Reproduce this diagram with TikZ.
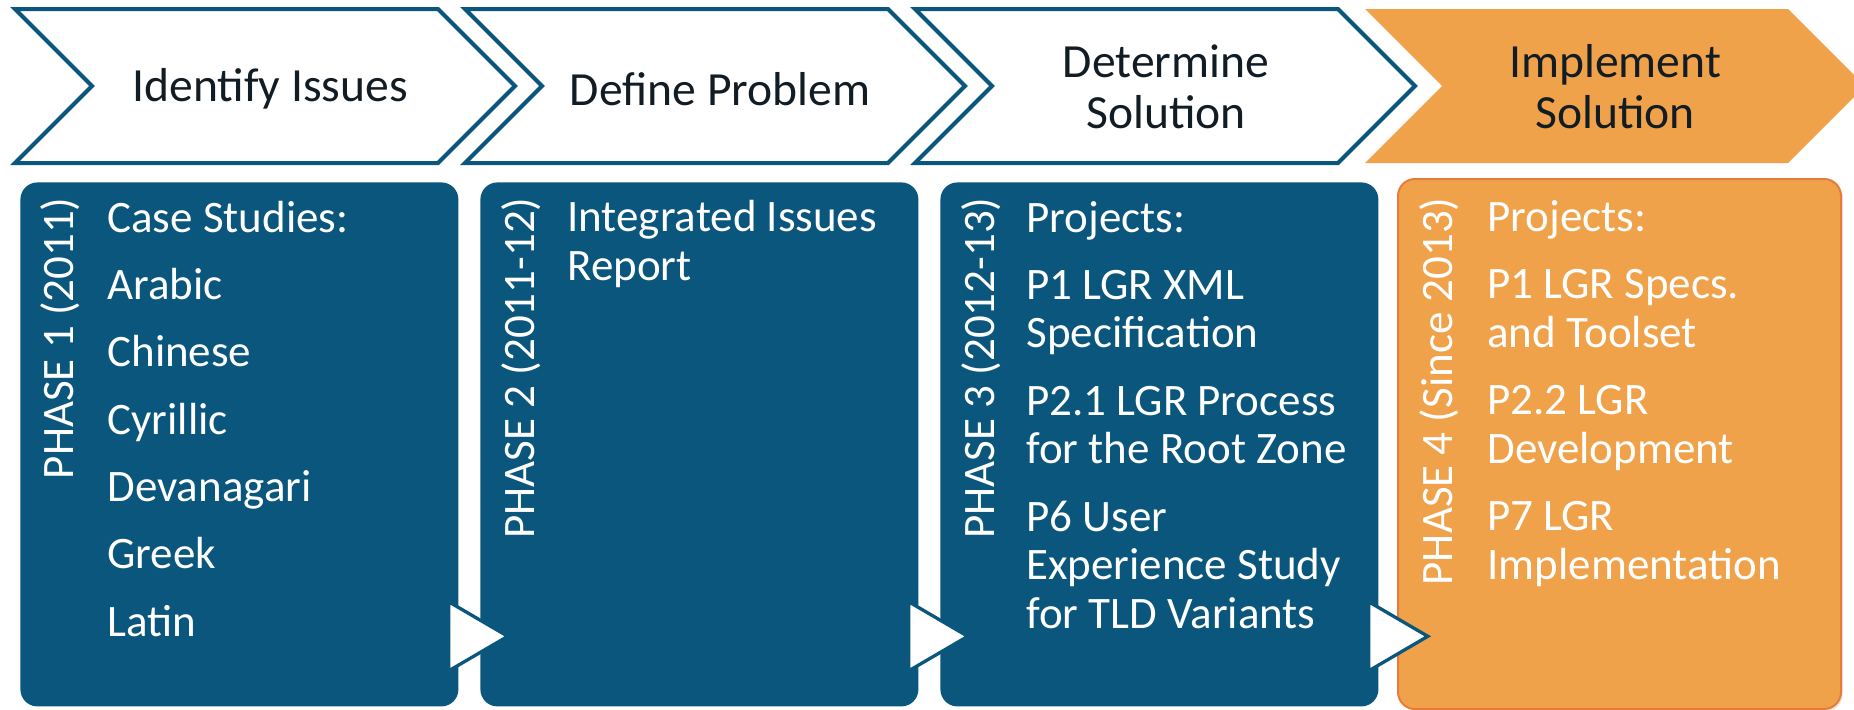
\documentclass[tikz,border=0pt]{standalone}
\usepackage{fontspec}
\setmainfont{Carlito}
\usetikzlibrary{shadows}

\definecolor{phaseblue}{RGB}{10,86,124}
\definecolor{phaseorange}{RGB}{240,162,75}
\definecolor{orangeline}{RGB}{231,124,58}
\definecolor{steptext}{RGB}{18,28,36}

\begin{document}
\begin{tikzpicture}
  [x=0.5pt, y=-0.5pt,
   chevron/.style={draw=phaseblue, line width=2pt, fill=white},
   steplabel/.style={text=steptext, align=center, inner sep=0pt,
                     font=\fontsize{23.8}{25.5}\selectfont},
   phasebox/.style={fill=phaseblue, rounded corners=8.5pt, anchor=north west,
                    minimum width=219pt, minimum height=262pt, inner sep=0pt},
   lastbox/.style={phasebox, fill=phaseorange, draw=orangeline, line width=1pt,
                   minimum width=221.5pt, minimum height=265pt,
                   drop shadow={opacity=0.2, shadow xshift=1pt, shadow yshift=-1pt}},
   phasename/.style={rotate=90, anchor=base east, text=white, inner sep=0pt,
                     font=\fontsize{22.5}{23.5}\selectfont},
   items/.style={anchor=base west, align=left, text=white, inner sep=0pt,
                 font=\fontsize{22.5}{24.25}\selectfont},
   nextarrow/.style={fill=white, draw=phaseblue, line width=1.65pt}]
  \useasboundingbox (0,0) rectangle (1854,709);

  % steps
  \foreach \i in {0,1,2}
    \draw[chevron] (15+450*\i,9) -- ++(423,0) -- ++(77,77) -- ++(-77,77)
      -- ++(-423,0) -- ++(77,-77) -- cycle;
  \fill[phaseorange] (1365,9) -- ++(423,0) -- ++(77,77) -- ++(-77,77)
    -- ++(-423,0) -- ++(77,-77) -- cycle;

  \node[steplabel] (identify) at (270,89) {Identify Issues};
  \node[steplabel] (define) at (720,89) {Define Problem};
  \node[steplabel] (determine) at (1166,87) {Determine\\Solution};
  \node[steplabel] (implement) at (1615,87) {Implement\\Solution};

  % phases
  \node[phasebox] (phase1) at (20,182) {};
  \node[phasebox] (phase2) at (480,182) {};
  \node[phasebox] (phase3) at (940,182) {};
  \node[lastbox] (phase4) at (1397,178) {};

  \node[phasename] (name1) at (73,197) {PHASE 1 (2011)};
  \node[phasename] (name2) at (534,197) {PHASE 2 (2011-12)};
  \node[phasename] (name3) at (994,197) {PHASE 3 (2012-13)};
  \node[phasename] (name4) at (1452,197) {PHASE 4 (Since 2013)};

  % lists sit on the baseline of their last line
  \node[items] (list1) at (107,636)
    {Case Studies:\\[9.4pt]Arabic\\[9.4pt]Chinese\\[9.4pt]Cyrillic\\[9.4pt]%
     Devanagari\\[9.4pt]Greek\\[9.4pt]Latin};
  \node[items] (list2) at (567,280) {Integrated Issues\\Report};
  \node[items] (list3) at (1026,628)
    {Projects:\\[9.4pt]P1 LGR XML\\Specification\\[9.4pt]%
     P2.1 LGR Process\\for the Root Zone\\[9.4pt]%
     P6 User\\Experience Study\\for TLD Variants};
  \node[items] (list4) at (1487,579)
    {Projects:\\[9.4pt]P1 LGR Specs.\\and Toolset\\[9.4pt]%
     P2.2 LGR\\Development\\[9.4pt]P7 LGR\\Implementation};

  % arrows between phases
  \foreach \a in {phase1,phase2,phase3}
    \draw[nextarrow] ([shift={(-10,-105)}]\a.south east) -- ++(0,69)
      -- ++(59,-34.5) -- cycle;
\end{tikzpicture}
\end{document}
